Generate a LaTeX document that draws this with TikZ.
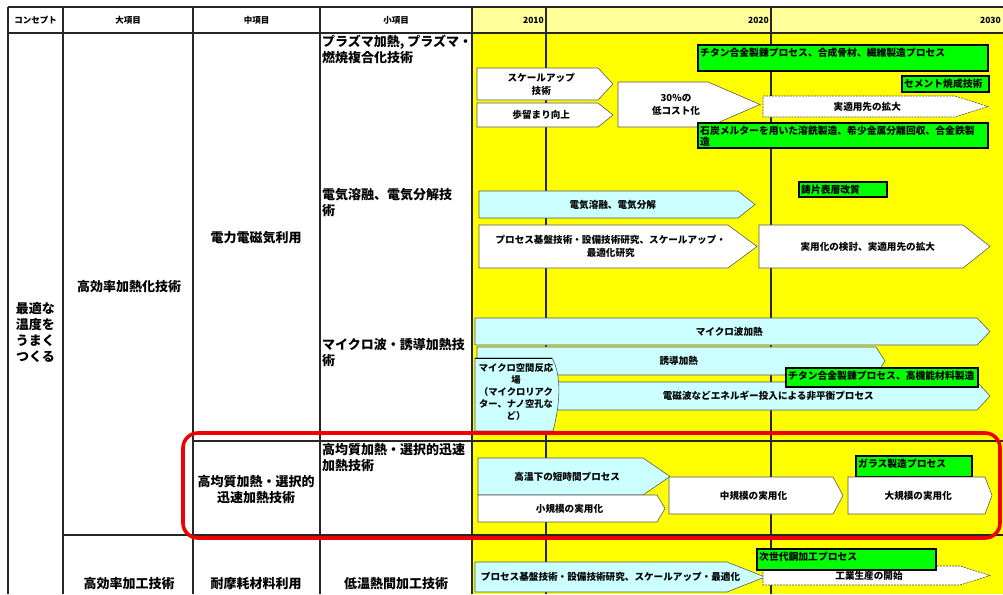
\documentclass[tikz,border=0pt]{standalone}
\usepackage{fontspec}
\setmainfont{Noto Sans CJK JP}
\definecolor{hdryel}{HTML}{FFFF99}
\definecolor{bodyyel}{HTML}{FFFF00}
\definecolor{cyanl}{HTML}{CCFFFF}
\definecolor{grn}{HTML}{00FF00}
\definecolor{redline}{HTML}{F00000}
\newcommand{\parr}[8]{%
  \draw[#2] (#3,#4) -- (#5,#4) -- (#6,{(#4+#7)/2}) -- (#5,#7) -- (#3,#7) -- cycle;
  \node[atext] (#1) at ({(#3+(#5+#6)/2)/2},{(#4+#7)/2}) {#8};
}
\newcommand{\gbox}[6]{%
  \draw[gboxst] (#2,#3) rectangle (#4,#5);
  \node[gtext, anchor=north west] (#1) at ({#2+2},{#3+2.5}) {#6};
}
\begin{document}
\begin{tikzpicture}[x=1pt,y=-1pt,
  grid/.style={line width=1.2pt, black!85},
  warr/.style={fill=white, draw=black!65, line width=0.6pt},
  carr/.style={fill=cyanl, draw=black!65, line width=0.6pt},
  darr/.style={fill=white, draw=black!70, line width=0.6pt, dash pattern=on 2pt off 1pt},
  gboxst/.style={fill=grn, draw=black, line width=1.1pt},
  atext/.style={font=\fontsize{9.6}{13}\selectfont\bfseries, align=center, inner sep=0},
  gtext/.style={font=\fontsize{9.8}{11}\selectfont\bfseries, align=left, inner sep=0},
  big/.style={font=\fontsize{13}{16}\selectfont\bfseries, align=center, inner sep=0},
  small/.style={font=\fontsize{13}{16}\selectfont\bfseries, align=left, inner sep=0, anchor=north west},
  hdr/.style={font=\fontsize{8.5}{10}\selectfont\bfseries, inner sep=0}]
\useasboundingbox (0,0) rectangle (1003,594);
\clip (0,0) rectangle (1003,594);
\fill[white] (0,0) rectangle (1003,594);
\fill[hdryel] (472,7) rectangle (1003,33);
\fill[bodyyel] (472,33) rectangle (1003,594);
% grid
\draw[grid] (8,7) -- (1003,7);
\draw[grid] (8,33) -- (1003,33);
\foreach \xx in {8,63,193,320,472,546,771} \draw[grid] (\xx,7) -- (\xx,594);
\draw[grid] (193,441) -- (1003,441);
\draw[grid] (63,535) -- (1003,535);
% header
\node[hdr] (h1) at (35.5,20) {コンセプト};
\node[hdr] (h2) at (128,20) {大項目};
\node[hdr] (h3) at (256.5,20) {中項目};
\node[hdr] (h4) at (396,20) {小項目};
\node[hdr, anchor=east] (y1) at (544,20) {2010};
\node[hdr, anchor=east] (y2) at (769,20) {2020};
\node[hdr, anchor=east] (y3) at (1001,20) {2030};
% left columns
\node[big] (concept) at (35.5,333) {最適な\\温度を\\うまく\\つくる};
\node[big] (dai1) at (129,287) {高効率加熱化技術};
\node[big] (chu1) at (256,238) {電力電磁気利用};
\node[big] (chu2) at (256,490) {高均質加熱・選択的\\迅速加熱技術};
\node[big] (dai2) at (129,584) {高効率加工技術};
\node[big] (chu3) at (256,584) {耐摩耗材料利用};
\node[big] (sho5) at (396,584) {低温熱間加工技術};
\node[small] (sho1) at (322,35) {プラズマ加熱, プラズマ・\\燃焼複合化技術};
\node[small] (sho2) at (322,188) {電気溶融、電気分解技\\術};
\node[small] (sho3) at (322,338) {マイクロ波・誘導加熱技\\術};
\node[small] (sho4) at (322,443) {高均質加熱・選択的迅速\\加熱技術};
% row 1
\gbox{g1}{698}{45}{988}{71}{チタン合金製錬プロセス、合成骨材、繊維製造プロセス}
\parr{a1}{warr}{477}{68}{598}{613}{100}{スケールアップ\\技術}
\parr{a2}{warr}{477}{103}{598}{613}{127}{歩留まり向上}
\parr{a3}{warr}{618}{82}{708}{760}{127}{30\%の\\低コスト化}
\gbox{g2}{902}{76}{989}{92}{セメント焼成技術}
\parr{a4}{darr}{763}{96}{955}{988}{117}{実適用先の拡大}
\gbox{g3}{698}{123}{988}{148}{石炭メルターを用いた溶銑製造、希少金属分離回収、合金鉄製\\造}
% row 2
\gbox{g4}{799}{182}{887}{197}{鋳片表層改質}
\parr{a5}{carr}{479}{191}{738}{755}{218}{電気溶融、電気分解}
\parr{a6}{warr}{479}{225}{728}{757}{268}{プロセス基盤技術・設備技術研究、スケールアップ・\\最適化研究}
\parr{a7}{warr}{759}{225}{963}{990}{268}{実用化の検討、実適用先の拡大}
% row 3
\parr{a8}{carr}{475}{318}{977}{990}{345}{マイクロ波加熱}
\parr{a9}{carr}{477}{347}{876}{885}{375}{誘導加熱}
\parr{a10}{carr}{553}{382}{977}{990}{410}{電磁波などエネルギー投入による非平衡プロセス}
\draw[carr] (475,358) -- (552,358) .. controls (562,375) and (560,405) .. (553,431) -- (475,431) -- cycle;
\draw[black, line width=1pt] (475,358) -- (552,358);
\node[atext, font=\fontsize{9.3}{11.8}\selectfont\bfseries] (micro) at (516,392) {マイクロ空間反応\\場\\（マイクロリアク\\ター、ナノ空孔な\\ど）};
\gbox{g5}{786}{368}{978}{387}{チタン合金製錬プロセス、高機能材料製造}
% row 4
\parr{a11}{carr}{478}{458}{643}{670}{495}{高温下の短時間プロセス}
\parr{a12}{warr}{478}{495}{657}{665}{522}{小規模の実用化}
\parr{a13}{warr}{669}{477}{833}{843}{514}{中規模の実用化}
\gbox{g6}{856}{456}{972}{477}{ガラス製造プロセス}
\parr{a14}{warr}{848}{477}{985}{992}{514}{大規模の実用化}
% row 5
\parr{a15}{carr}{475}{562}{727}{765}{592}{プロセス基盤技術・設備技術研究、スケールアップ・最適化}
\parr{a16}{darr}{763}{566}{960}{990}{585}{工業生産の開始}
\gbox{g7}{757}{549}{936}{570}{次世代鋼加工プロセス}
% highlight
\draw[redline, line width=3.6pt, rounded corners=15pt] (183,433) rectangle (1000,538);
\end{tikzpicture}
\end{document}
